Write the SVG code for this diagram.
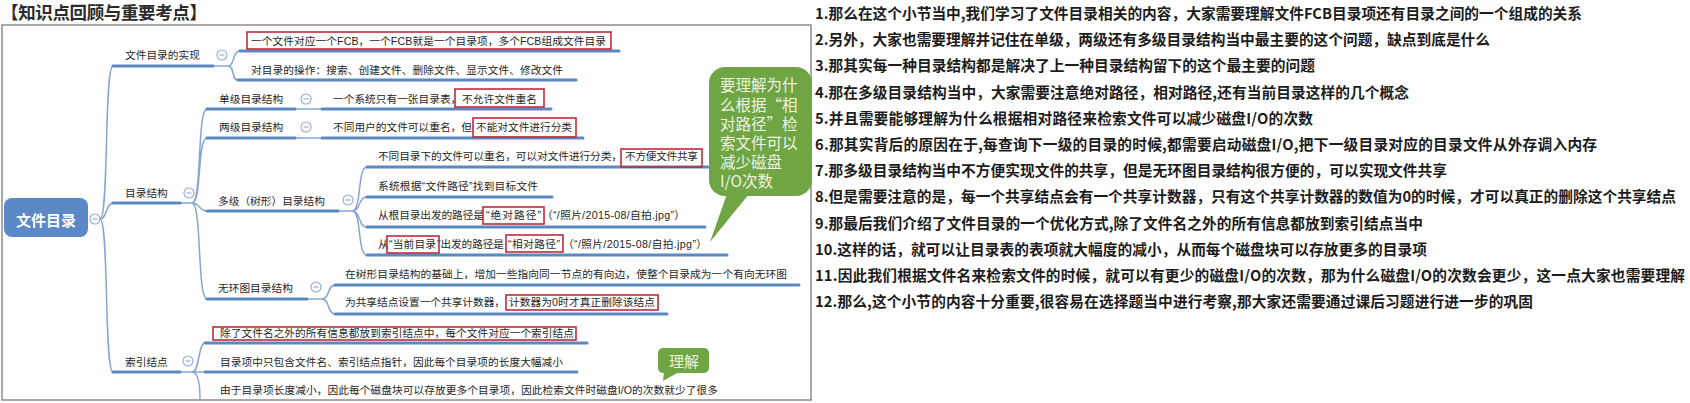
<svg xmlns="http://www.w3.org/2000/svg" width="1690" height="403" viewBox="0 0 1690 403">
<defs>
<style>
.t{font-family:"Liberation Sans","Noto Sans CJK SC",sans-serif;font-size:10.7px;fill:#262626}
.r{font-family:"Noto Sans CJK SC",sans-serif;font-size:14.7px;font-weight:bold;fill:#1c1c1c}
.ul{stroke:#5b87c5;stroke-width:3;fill:none;stroke-linecap:round}
.cn{stroke:#86a5d1;stroke-width:1.5;fill:none}
.box{fill:none;stroke:#c3283a;stroke-width:1.6}
.cc{fill:#fff;stroke:#8fa9d0;stroke-width:1.1}
.bub{fill:#70a544}
.bt{font-family:"Noto Sans CJK SC",sans-serif;font-size:15.5px;fill:#eef3e2}
</style>
<g id="col"><circle class="cc" r="5"/><line x1="-2.6" x2="2.6" stroke="#8fa9d0" stroke-width="1.1"/></g>
</defs>
<rect width="1690" height="403" fill="#fff"/>
<text x="1" y="18.5" font-family="Noto Sans CJK SC,sans-serif" font-size="17.5" font-weight="bold" fill="#2b2b2b" textLength="206">【知识点回顾与重要考点】</text>
<rect x="2" y="25" width="809" height="375" fill="none" stroke="#8c8c8c" stroke-width="1.5"/>

<g id="connectors">
<path class="cn" d="M100,219 C109,219 104,66 113,66"/>
<path class="cn" d="M100,219 C107,219 106,203 113,203"/>
<path class="cn" d="M100,219 C109,219 104,372 113,372"/>
<path class="cn" d="M213,66 H228 M228,66 C235,66 232,51 240,51 M228,66 C235,66 231,80 238,80"/>
<path class="cn" d="M180,203 H192 M192,203 C202,203 197,109 207,109 M192,203 C202,203 197,138 207,138 M192,203 C200,203 199,211 207,211 M192,203 C202,203 197,299 207,299"/>
<path class="cn" d="M295,109 H322 M295,138 H322"/>
<path class="cn" d="M338,211 H352 M352,211 C362,211 357,167 367,167 M352,211 C361,211 358,197 367,197 M352,211 C361,211 358,227 367,227 M352,211 C362,211 357,255 367,255"/>
<path class="cn" d="M307,299 H322 M322,299 C330,299 327,285 335,285 M322,299 C330,299 327,314 335,314"/>
<path class="cn" d="M180,372 H192 M192,372 C200,372 198,343 205,343 M192,372 H205 M192,372 C199,372 200,386 200,399"/>
</g>

<g id="n-root">
<rect x="4" y="198" width="84" height="39" rx="8" fill="#5b88c6"/>
<text x="46" y="226" text-anchor="middle" font-family="Noto Sans CJK SC,sans-serif" font-size="15" font-weight="bold" fill="#fff">文件目录</text>
<use href="#col" x="95" y="219"/>
</g>

<g id="n-impl">
<line class="ul" x1="113" y1="66" x2="213" y2="66"/>
<text class="t" x="125" y="59">文件目录的实现</text>
<use href="#col" x="222" y="55"/>
</g>
<g id="n-impl-1">
<line class="ul" x1="240" y1="51" x2="619" y2="51"/>
<text class="t" x="251" y="45" textLength="355">一个文件对应一个FCB，一个FCB就是一个目录项，多个FCB组成文件目录</text>
<rect class="box" x="247" y="32" width="364" height="17"/>
</g>
<g id="n-impl-2">
<line class="ul" x1="238" y1="80" x2="576" y2="80"/>
<text class="t" x="251" y="74" textLength="312">对目录的操作：搜索、创建文件、删除文件、显示文件、修改文件</text>
</g>

<g id="n-struct">
<line class="ul" x1="113" y1="203" x2="180" y2="203"/>
<text class="t" x="125" y="197">目录结构</text>
<use href="#col" x="189" y="193"/>
</g>

<g id="n-single">
<line class="ul" x1="207" y1="109" x2="295" y2="109"/>
<text class="t" x="219" y="103">单级目录结构</text>
<use href="#col" x="306" y="99"/>
</g>
<g id="n-single-1">
<line class="ul" x1="322" y1="109" x2="551" y2="109"/>
<text class="t" x="333" y="103">一个系统只有一张目录表，</text>
<text class="t" x="462" y="103" textLength="75">不允许文件重名</text>
<rect class="box" x="455" y="89" width="89" height="18"/>
</g>

<g id="n-two">
<line class="ul" x1="207" y1="138" x2="295" y2="138"/>
<text class="t" x="219" y="131">两级目录结构</text>
<use href="#col" x="306" y="127"/>
</g>
<g id="n-two-1">
<line class="ul" x1="322" y1="138" x2="583" y2="138"/>
<text class="t" x="333" y="131" textLength="139">不同用户的文件可以重名，但</text>
<text class="t" x="476" y="131" textLength="96">不能对文件进行分类</text>
<rect class="box" x="473" y="118" width="103" height="19"/>
</g>

<g id="n-multi">
<line class="ul" x1="207" y1="211" x2="338" y2="211"/>
<text class="t" x="218" y="205">多级（树形）目录结构</text>
<use href="#col" x="348" y="200"/>
</g>
<g id="n-multi-1">
<line class="ul" x1="367" y1="167" x2="708" y2="167"/>
<text class="t" x="378" y="160" textLength="244">不同目录下的文件可以重名，可以对文件进行分类，</text>
<text class="t" x="625" y="160" textLength="73">不方便文件共享</text>
<rect class="box" x="621" y="149" width="81" height="18"/>
</g>
<g id="n-multi-2">
<line class="ul" x1="367" y1="197" x2="552" y2="197"/>
<text class="t" x="378" y="190" textLength="160">系统根据“文件路径”找到目标文件</text>
</g>
<g id="n-multi-3">
<line class="ul" x1="367" y1="227" x2="705" y2="227"/>
<text class="t" x="378" y="219" textLength="106">从根目录出发的路径是</text>
<text class="t" x="486" y="219" textLength="55">“绝对路径”</text>
<text class="t" x="542" y="219" textLength="143">（“/照片/2015-08/自拍.jpg”）</text>
<rect class="box" x="483" y="207" width="61" height="17"/>
</g>
<g id="n-multi-4">
<line class="ul" x1="367" y1="255" x2="727" y2="255"/>
<text class="t" x="378" y="248">从</text>
<text class="t" x="389" y="248" textLength="47">“当前目录</text>
<text class="t" x="437" y="248" textLength="67">”出发的路径是</text>
<text class="t" x="508" y="248" textLength="52">“相对路径”</text>
<text class="t" x="563" y="248" textLength="144">（“/照片/2015-08/自拍.jpg”）</text>
<rect class="box" x="387" y="236" width="52" height="17"/>
<rect class="box" x="506" y="235" width="57" height="17"/>
</g>

<g id="n-dag">
<line class="ul" x1="207" y1="299" x2="307" y2="299"/>
<text class="t" x="218" y="292">无环图目录结构</text>
<use href="#col" x="316" y="287"/>
</g>
<g id="n-dag-1">
<line class="ul" x1="335" y1="285" x2="799" y2="285"/>
<text class="t" x="345" y="278" textLength="442">在树形目录结构的基础上，增加一些指向同一节点的有向边，使整个目录成为一个有向无环图</text>
</g>
<g id="n-dag-2">
<line class="ul" x1="335" y1="314" x2="667" y2="314"/>
<text class="t" x="345" y="306" textLength="160">为共享结点设置一个共享计数器，</text>
<text class="t" x="509" y="306" textLength="146">计数器为0时才真正删除该结点</text>
<rect class="box" x="506" y="295" width="152" height="15"/>
</g>

<g id="n-inode">
<line class="ul" x1="113" y1="372" x2="180" y2="372"/>
<text class="t" x="125" y="366">索引结点</text>
<use href="#col" x="188" y="361"/>
</g>
<g id="n-inode-1">
<line class="ul" x1="205" y1="343" x2="587" y2="343"/>
<text class="t" x="220" y="337" textLength="354">除了文件名之外的所有信息都放到索引结点中，每个文件对应一个索引结点</text>
<rect class="box" x="213" y="327" width="363" height="13"/>
</g>
<g id="n-inode-2">
<line class="ul" x1="205" y1="372" x2="577" y2="372"/>
<text class="t" x="220" y="366" textLength="343">目录项中只包含文件名、索引结点指针，因此每个目录项的长度大幅减小</text>
</g>
<g id="n-inode-3">
<text class="t" x="220" y="394" textLength="498">由于目录项长度减小，因此每个磁盘块可以存放更多个目录项，因此检索文件时磁盘I/O的次数就少了很多</text>
</g>

<g id="callout-understand">
<rect class="bub" x="658" y="348" width="51" height="25" rx="5"/>
<polygon class="bub" points="664,372 679,372 663,381"/>
<text x="684" y="367" text-anchor="middle" font-family="Noto Sans CJK SC,sans-serif" font-size="15" fill="#eef3e2">理解</text>
</g>

<g id="callout-relpath">
<rect class="bub" x="709" y="67" width="103" height="129" rx="16"/>
<polygon class="bub" points="727,194 749,194 710,242"/>
<text class="bt" x="720" y="91">要理解为什</text>
<text class="bt" x="720" y="111">么根据“相</text>
<text class="bt" x="720" y="130">对路径”检</text>
<text class="bt" x="720" y="149">索文件可以</text>
<text class="bt" x="720" y="168">减少磁盘</text>
<text class="bt" x="720" y="187">I/O次数</text>
</g>

<g id="notes">
<text class="r" x="815" y="19" textLength="767">1.那么在这个小节当中,我们学习了文件目录相关的内容，大家需要理解文件FCB目录项还有目录之间的一个组成的关系</text>
<text class="r" x="815" y="45.2" textLength="675">2.另外，大家也需要理解并记住在单级，两级还有多级目录结构当中最主要的这个问题，缺点到底是什么</text>
<text class="r" x="815" y="71.4" textLength="500">3.那其实每一种目录结构都是解决了上一种目录结构留下的这个最主要的问题</text>
<text class="r" x="815" y="97.6" textLength="594">4.那在多级目录结构当中，大家需要注意绝对路径，相对路径,还有当前目录这样的几个概念</text>
<text class="r" x="815" y="123.8" textLength="498">5.并且需要能够理解为什么根据相对路径来检索文件可以减少磁盘I/O的次数</text>
<text class="r" x="815" y="150" textLength="782">6.那其实背后的原因在于,每查询下一级的目录的时候,都需要启动磁盘I/O,把下一级目录对应的目录文件从外存调入内存</text>
<text class="r" x="815" y="176.2" textLength="632">7.那多级目录结构当中不方便实现文件的共享，但是无环图目录结构很方便的，可以实现文件共享</text>
<text class="r" x="815" y="202.4" textLength="861">8.但是需要注意的是，每一个共享结点会有一个共享计数器，只有这个共享计数器的数值为0的时候，才可以真正的删除这个共享结点</text>
<text class="r" x="815" y="228.6" textLength="608">9.那最后我们介绍了文件目录的一个优化方式,除了文件名之外的所有信息都放到索引结点当中</text>
<text class="r" x="815" y="254.8" textLength="612">10.这样的话，就可以让目录表的表项就大幅度的减小，从而每个磁盘块可以存放更多的目录项</text>
<text class="r" x="815" y="281" textLength="870">11.因此我们根据文件名来检索文件的时候，就可以有更少的磁盘I/O的次数，那为什么磁盘I/O的次数会更少，这一点大家也需要理解</text>
<text class="r" x="815" y="307.2" textLength="718">12.那么,这个小节的内容十分重要,很容易在选择题当中进行考察,那大家还需要通过课后习题进行进一步的巩固</text>
</g>
</svg>
